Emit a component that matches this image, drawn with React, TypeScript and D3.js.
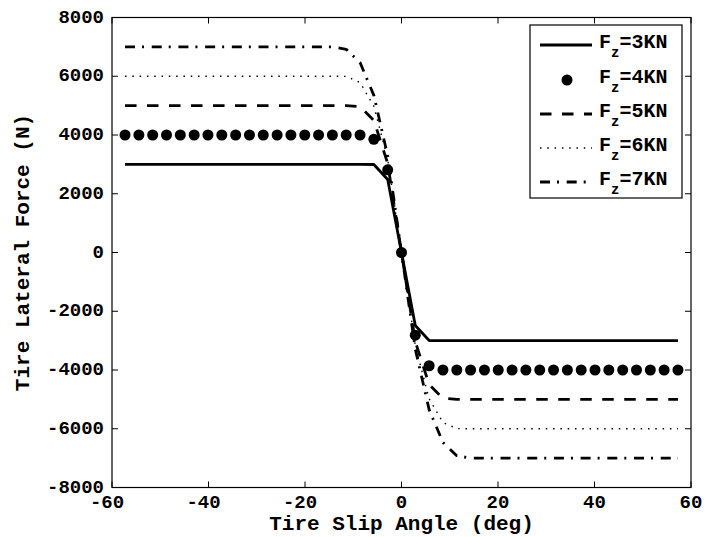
import React from "react";
import * as d3 from "d3";

const angleDeg = [
  -57.3, -54.43, -51.57, -48.7, -45.84, -42.97, -40.11, -37.24, -34.38, -31.51,
  -28.65, -25.78, -22.92, -20.05, -17.19, -14.32, -11.46, -8.59, -5.73, -2.86,
  0,
  2.86, 5.73, 8.59, 11.46, 14.32, 17.19, 20.05, 22.92, 25.78, 28.65,
  31.51, 34.38, 37.24, 40.11, 42.97, 45.84, 48.7, 51.57, 54.43, 57.3,
];

const fz3 = [
  3000, 3000, 3000, 3000, 3000, 3000, 3000, 3000, 3000, 3000,
  3000, 3000, 3000, 3000, 3000, 3000, 3000, 3000, 2996, 2487,
  0,
  -2487, -2996, -3000, -3000, -3000, -3000, -3000, -3000, -3000, -3000,
  -3000, -3000, -3000, -3000, -3000, -3000, -3000, -3000, -3000, -3000,
];
const fz4 = [
  4000, 4000, 4000, 4000, 4000, 4000, 4000, 4000, 4000, 4000,
  4000, 4000, 4000, 4000, 4000, 4000, 4000, 4000, 3855, 2816,
  0,
  -2816, -3855, -4000, -4000, -4000, -4000, -4000, -4000, -4000, -4000,
  -4000, -4000, -4000, -4000, -4000, -4000, -4000, -4000, -4000, -4000,
];
const fz5 = [
  5000, 5000, 5000, 5000, 5000, 5000, 5000, 5000, 5000, 5000,
  5000, 5000, 5000, 5000, 5000, 5000, 5000, 4964, 4498, 3030,
  0,
  -3030, -4498, -4964, -5000, -5000, -5000, -5000, -5000, -5000, -5000,
  -5000, -5000, -5000, -5000, -5000, -5000, -5000, -5000, -5000, -5000,
];
const fz6 = [
  6000, 6000, 6000, 6000, 6000, 6000, 6000, 6000, 6000, 6000,
  6000, 6000, 6000, 6000, 6000, 6000, 5995, 5788, 4979, 3179,
  0,
  -3179, -4979, -5788, -5995, -6000, -6000, -6000, -6000, -6000, -6000,
  -6000, -6000, -6000, -6000, -6000, -6000, -6000, -6000, -6000, -6000,
];
const fz7 = [
  7000, 7000, 7000, 7000, 7000, 7000, 7000, 7000, 7000, 7000,
  7000, 7000, 7000, 7000, 7000, 7000, 6917, 6466, 5350, 3289,
  0,
  -3289, -5350, -6466, -6917, -7000, -7000, -7000, -7000, -7000, -7000,
  -7000, -7000, -7000, -7000, -7000, -7000, -7000, -7000, -7000, -7000,
];

const xTicks = [-60, -40, -20, 0, 20, 40, 60];
const yTicks = [-8000, -6000, -4000, -2000, 0, 2000, 4000, 6000, 8000];
const legendLabels = ["3KN", "4KN", "5KN", "6KN", "7KN"];

const W = 708;
const H = 537;
const FONT = "'Liberation Mono', 'Courier New', monospace";

type Style = { kind: "line" | "dots"; dash?: string; width?: number };
const styles: Style[] = [
  { kind: "line", width: 2.8 },
  { kind: "dots" },
  { kind: "line", width: 2.8, dash: "11.5 10.5" },
  { kind: "line", width: 1.4, dash: "1.5 5.8" },
  { kind: "line", width: 2.8, dash: "10 7 2 7.7" },
];

export default function App() {
  const x = d3.scaleLinear().domain([-60, 60]).range([112, 691]);
  const y = d3.scaleLinear().domain([-8000, 8000]).range([487.5, 17.5]);
  const series = [fz3, fz4, fz5, fz6, fz7];
  const line = d3
    .line<number>()
    .x((_, i) => x(angleDeg[i]))
    .y((d) => y(d));

  const [x0, x1] = x.range();
  const [y0, y1] = [y.range()[1], y.range()[0]];
  const tickLen = 6;

  const legX = 530, legY = 25, legW = 152, legH = 173;
  const rowY = [45, 80, 114, 148, 182];

  return (
    <svg
      width={W}
      height={H}
      style={{ position: "absolute", left: 0, top: 0, background: "#fff" }}
      fontFamily={FONT}
      fontWeight="bold"
    >
      <rect x={0} y={0} width={W} height={H} fill="#fff" />
      <g>
        {series.map((s, k) =>
          styles[k].kind === "line" ? (
            <path
              key={k}
              d={line(s) || ""}
              fill="none"
              stroke="#000"
              strokeWidth={styles[k].width}
              strokeDasharray={styles[k].dash}
              strokeLinejoin="round"
            />
          ) : (
            <g key={k}>
              {s.map((v, i) => (
                <circle key={i} cx={x(angleDeg[i])} cy={y(v)} r={5.5} fill="#000" />
              ))}
            </g>
          )
        )}
      </g>
      <rect x={x0} y={y0} width={x1 - x0} height={y1 - y0} fill="none" stroke="#000" strokeWidth={1.2} />
      {xTicks.map((t) => (
        <g key={"xt" + t}>
          <line x1={x(t)} x2={x(t)} y1={y1} y2={y1 - tickLen} stroke="#000" />
          <line x1={x(t)} x2={x(t)} y1={y0} y2={y0 + tickLen} stroke="#000" />
          <text x={x(t) - (t < 0 ? 5 : 0)} y={507.5} textAnchor="middle" fontSize={19}>
            {t}
          </text>
        </g>
      ))}
      {yTicks.map((t) => (
        <g key={"yt" + t}>
          <line x1={x0} x2={x0 + tickLen} y1={y(t)} y2={y(t)} stroke="#000" />
          <line x1={x1} x2={x1 - tickLen} y1={y(t)} y2={y(t)} stroke="#000" />
          <text x={104} y={y(t) + 5} textAnchor="end" fontSize={19}>
            {t}
          </text>
        </g>
      ))}
      <text x={(x0 + x1) / 2} y={530} textAnchor="middle" fontSize={21}>
        Tire Slip Angle (deg)
      </text>
      <text
        transform={`translate(29,${(y0 + y1) / 2}) rotate(-90)`}
        textAnchor="middle"
        fontSize={21}
      >
        Tire Lateral Force (N)
      </text>
      <rect x={legX} y={legY} width={legW} height={legH} fill="#fff" stroke="#000" strokeWidth={1.2} />
      {legendLabels.map((lab, k) => {
        const cy = rowY[k];
        const st = styles[k];
        return (
          <g key={"lg" + k}>
            {st.kind === "line" ? (
              <line
                x1={540}
                x2={592}
                y1={cy}
                y2={cy}
                stroke="#000"
                strokeWidth={st.width}
                strokeDasharray={st.dash}
              />
            ) : (
              <circle cx={567} cy={cy} r={5.5} fill="#000" />
            )}
            <text x={599} y={cy + 3} fontSize={20}>
              F
              <tspan dy={9} fontSize={14}>z</tspan>
              <tspan dy={-9} fontSize={20}>={lab}</tspan>
            </text>
          </g>
        );
      })}
    </svg>
  );
}
